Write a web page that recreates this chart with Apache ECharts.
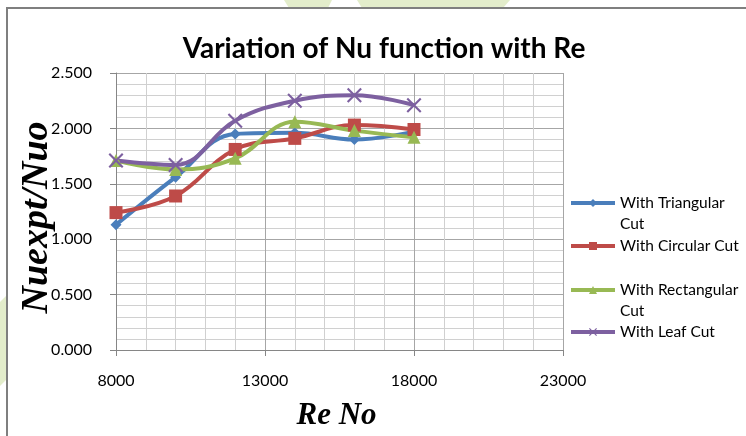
<!DOCTYPE html>
<html>
<head>
<meta charset="utf-8">
<script src="https://cdn.jsdelivr.net/npm/echarts@6/dist/echarts.min.js"></script>
<style>
  html, body { margin: 0; padding: 0; background: #fff; }
  #main { width: 746px; height: 436px; }
</style>
</head>
<body>
<div id="main"></div>
<script>
// Reynolds numbers (x)
var reNo = [8000, 10000, 12000, 14000, 16000, 18000];
// Nuexpt/Nuo for each cut type
var triangular = [1.13, 1.56, 1.95, 1.96, 1.90, 1.97];
var circular = [1.24, 1.39, 1.81, 1.91, 2.03, 1.99];
var rectangular = [1.71, 1.63, 1.73, 2.06, 1.98, 1.92];
var leaf = [1.71, 1.67, 2.07, 2.25, 2.30, 2.21];

var names = ["With Triangular Cut", "With Circular Cut", "With Rectangular Cut", "With Leaf Cut"];
var labels = ["\nWith Triangular\nCut", "With Circular Cut", "\nWith Rectangular\nCut", "With Leaf Cut"];
var colors = ["#4a7ebb", "#be4b48", "#98b954", "#7d60a0"];
var crossPath = "path://M0,1 L1,0 L5,4 L9,0 L10,1 L6,5 L10,9 L9,10 L5,6 L1,10 L0,9 L4,5 Z";
var symbols = ["diamond", "rect", "triangle", crossPath];
var symbolSizes = [11, 13, 13, 15];
var legendCenters = [203, 246, 290, 332];

function pairs(ys) {
  var out = [];
  for (var i = 0; i < reNo.length; i++) out.push([reNo[i], ys[i]]);
  return out;
}

var allData = [triangular, circular, rectangular, leaf];
var series = [];
var legends = [];
for (let i = 0; i < names.length; i++) {
  series.push({
    name: names[i],
    type: "line",
    smooth: 0.4,
    data: pairs(allData[i]),
    symbol: symbols[i],
    symbolSize: symbolSizes[i],
    lineStyle: { color: colors[i], width: 4 },
    itemStyle: { color: colors[i] },
  });
  var h = labels[i].indexOf("\n") === 0 ? 63 : 21;
  legends.push({
    data: [names[i]],
    left: 569,
    top: legendCenters[i] - h / 2,
    padding: 0,
    itemWidth: 44,
    itemHeight: 10,
    itemGap: 0,
    selectedMode: false,
    lineStyle: { width: 4 },
    formatter: function () { return labels[i]; },
    textStyle: { fontFamily: "Lato", fontSize: 15.5, color: "#000", lineHeight: 21 },
  });
}

var myChart = echarts.init(document.getElementById("main"));
var option = {
  backgroundColor: "#fff",
  animation: false,
  title: {
    text: "Variation of Nu function with Re",
    left: 379,
    textAlign: "center",
    top: 30,
    textStyle: { fontFamily: "Lato", fontSize: 28, fontWeight: "bold", color: "#000" },
  },
  legend: legends,
  graphic: [
    { type: "polygon", shape: { points: [[284, 0], [332, 0], [328, 8], [289, 8]] }, style: { fill: "#e3edcb" } },
    { type: "polygon", shape: { points: [[357, 0], [510, 0], [503, 8], [362, 8]] }, style: { fill: "#e3edcb" } },
    { type: "polygon", shape: { points: [[0, 302], [6, 296], [6, 380], [0, 386]] }, style: { fill: "#e3edcb" } },
    { type: "polyline", shape: { points: [[7, 436], [7, 8], [746, 8]] }, style: { stroke: "#7f7f7f", lineWidth: 2, fill: null } },
  ],
  grid: { left: 116, right: 183, top: 73, bottom: 83 },
  xAxis: {
    type: "value",
    min: 8000,
    max: 23000,
    interval: 5000,
    name: "Re No",
    nameLocation: "middle",
    nameGap: 50,
    nameMoveOverlap: false,
    nameTextStyle: { fontFamily: "Liberation Serif", fontStyle: "italic", fontWeight: "bold", fontSize: 31, color: "#000", padding: [0, 6, 0, 0] },
    axisLine: { lineStyle: { color: "#868686" } },
    axisTick: { show: true, length: 6, lineStyle: { color: "#868686" } },
    axisLabel: { margin: 23, fontFamily: "Lato", fontSize: 16, color: "#000", formatter: function (v) { return String(v); } },
    splitLine: { lineStyle: { color: "#a6a6a6" } },
    minorTick: { show: false, splitNumber: 5 },
    minorSplitLine: { show: true, lineStyle: { color: "#d0d0d0" } },
  },
  yAxis: {
    type: "value",
    min: 0,
    max: 2.5,
    interval: 0.5,
    name: "Nuexpt/Nuo",
    nameLocation: "middle",
    nameGap: 60,
    nameMoveOverlap: false,
    nameTextStyle: { fontFamily: "Liberation Serif", fontStyle: "italic", fontWeight: "bold", fontSize: 38, color: "#000", padding: [0, 12, 0, 0] },
    axisLine: { show: true, lineStyle: { color: "#868686" } },
    axisTick: { show: true, length: 6, lineStyle: { color: "#868686" } },
    axisLabel: {
      margin: 24,
      fontFamily: "Lato",
      fontSize: 16,
      color: "#000",
      formatter: function (v) { return v.toFixed(3); },
    },
    splitLine: { lineStyle: { color: "#a6a6a6" } },
    minorTick: { show: false, splitNumber: 5 },
    minorSplitLine: { show: true, lineStyle: { color: "#d0d0d0" } },
  },
  series: series,
};
myChart.setOption(option);
</script>
</body>
</html>
